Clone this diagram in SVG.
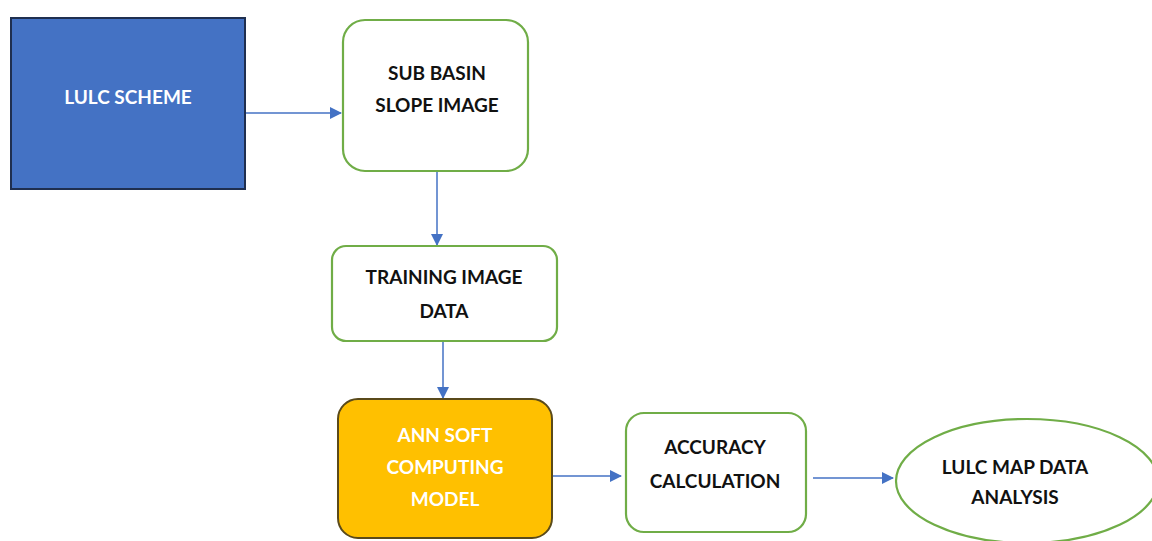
<svg xmlns="http://www.w3.org/2000/svg" width="1152" height="541" viewBox="0 0 1152 541">
<style>
.t{font-family:Lato,"Open Sans","Liberation Sans",sans-serif;font-weight:bold;font-size:19px;text-anchor:middle}
.dk{fill:#111}
.wh{fill:#fff}
.gb{fill:#fff;stroke:#70AD47;stroke-width:2.2}
.c{stroke:#4472C4;stroke-width:1.5;fill:none;marker-end:url(#ah)}
</style>
<defs>
<marker id="ah" markerWidth="12" markerHeight="12" refX="11" refY="6" orient="auto" markerUnits="userSpaceOnUse">
<path d="M0,0 L12,6 L0,12 z" fill="#4472C4"/>
</marker>
</defs>
<rect width="1152" height="541" fill="#fff"/>
<g id="connectors">
<line class="c" x1="245" y1="113" x2="341" y2="113"/>
<line class="c" x1="437" y1="172" x2="437" y2="245"/>
<line class="c" x1="443" y1="342" x2="443" y2="398"/>
<line class="c" x1="553" y1="476" x2="621" y2="476"/>
<line class="c" x1="813" y1="478" x2="893" y2="478"/>
</g>
<g id="lulc-scheme">
<rect x="11" y="18" width="234" height="171" fill="#4472C4" stroke="#1F2F50" stroke-width="2"/>
<text class="t wh" x="128" y="104">LULC SCHEME</text>
</g>
<g id="sub-basin">
<rect class="gb" x="343" y="20" width="185" height="151" rx="22"/>
<text class="t dk" x="437" y="80">SUB BASIN</text>
<text class="t dk" x="437" y="112">SLOPE IMAGE</text>
</g>
<g id="training">
<rect class="gb" x="332" y="246" width="225" height="95" rx="14"/>
<text class="t dk" x="444" y="284">TRAINING IMAGE</text>
<text class="t dk" x="444" y="318">DATA</text>
</g>
<g id="ann">
<rect x="338" y="399" width="214" height="139" rx="20" fill="#FFC000" stroke="#5A4A1A" stroke-width="2"/>
<text class="t wh" x="445" y="442">ANN SOFT</text>
<text class="t wh" x="445" y="474">COMPUTING</text>
<text class="t wh" x="445" y="506">MODEL</text>
</g>
<g id="accuracy">
<rect class="gb" x="626" y="413" width="180" height="119" rx="18"/>
<text class="t dk" x="715" y="454">ACCURACY</text>
<text class="t dk" x="715" y="488">CALCULATION</text>
</g>
<g id="lulc-map">
<ellipse class="gb" cx="1027" cy="481" rx="131" ry="62"/>
<text class="t dk" x="1015" y="474">LULC MAP DATA</text>
<text class="t dk" x="1015" y="504">ANALYSIS</text>
</g>
</svg>
